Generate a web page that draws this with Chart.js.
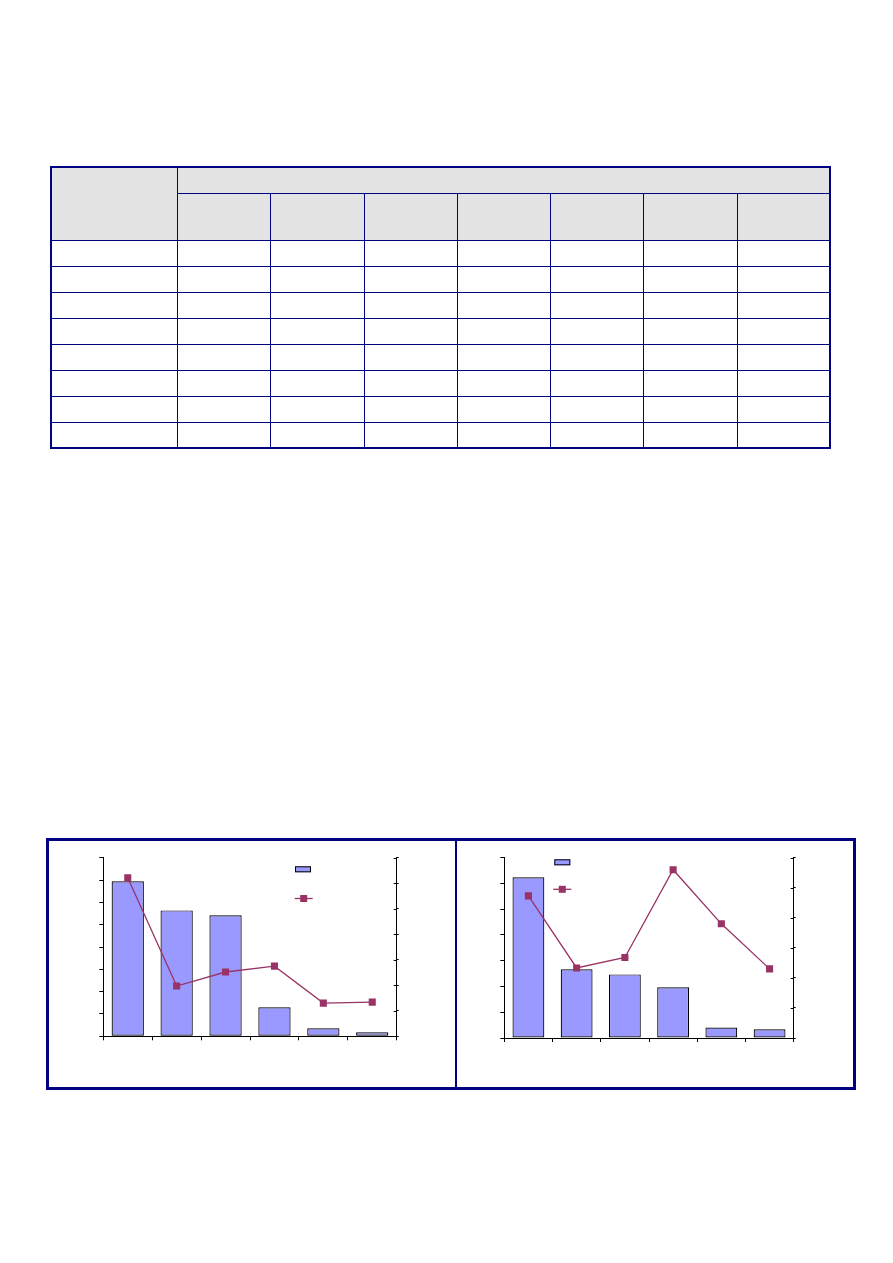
<!DOCTYPE html>
<html>
<head>
<meta charset="utf-8">
<script src="https://cdn.jsdelivr.net/npm/chart.js@4"></script>
<style>
  html, body { margin: 0; padding: 0; background: #ffffff; }
  body { width: 893px; height: 1263px; position: relative; overflow: hidden; font-family: "Liberation Sans", Arial, sans-serif; }
  table.grid {
    position: absolute; left: 50px; top: 166px; width: 781px;
    border-collapse: collapse; table-layout: fixed;
    border: 2px solid #000080;
  }
  table.grid td, table.grid th { border: 1px solid #000080; padding: 0; font-size: 11px; }
  table.grid th { background: #e3e3e3; font-weight: normal; }
  table.grid tr.h1 { height: 26px; }
  table.grid tr.h2 { height: 47px; }
  table.grid tr.d { height: 26px; }
  #panel {
    position: absolute; left: 46px; top: 838px; width: 810px; height: 252px;
    box-sizing: border-box; border: 3px solid #000080;
  }
  #divider { position: absolute; left: 455px; top: 838px; width: 2px; height: 252px; background: #000080; }
  .cv { position: absolute; }
</style>
</head>
<body>
<table class="grid" id="tbl">
  <colgroup>
    <col style="width:126px"><col style="width:93px"><col style="width:94px"><col style="width:93px">
    <col style="width:93px"><col style="width:93px"><col style="width:94px"><col style="width:93px">
  </colgroup>
</table>
<div id="panel"></div>
<div id="divider"></div>
<div class="cv" style="left:49px; top:841px; width:405px; height:246px;"><canvas id="c1" width="405" height="246"></canvas></div>
<div class="cv" style="left:457px; top:841px; width:397px; height:246px;"><canvas id="c2" width="397" height="246"></canvas></div>
<script>
// ---- Data (no text is visible in the reference; labels are blank) ----
const tableColumns = ['', '', '', '', '', '', ''];
const tableRows = ['', '', '', '', '', '', '', ''];

const categories1 = ['', '', '', '', '', ''];
const bars1 = [69.4, 56.4, 54.2, 13.0, 3.6, 1.8];
const line1 = [62.1, 19.7, 25.2, 27.5, 13.0, 13.4];
const leftAxis1 = { min: 0, max: 80, step: 10 };
const rightAxis1 = { min: 0, max: 70, step: 10 };

const categories2 = ['', '', '', '', '', ''];
const bars2 = [62.4, 26.7, 24.7, 19.7, 4.1, 3.4];
const line2 = [47.3, 23.3, 26.8, 56.0, 38.0, 23.0];
const leftAxis2 = { min: 0, max: 70, step: 10 };
const rightAxis2 = { min: 0, max: 60, step: 10 };

// ---- Table ----
(function buildTable() {
  const t = document.getElementById('tbl');
  const r1 = document.createElement('tr'); r1.className = 'h1';
  const corner = document.createElement('th'); corner.rowSpan = 2; r1.appendChild(corner);
  const span = document.createElement('th'); span.colSpan = tableColumns.length; r1.appendChild(span);
  t.appendChild(r1);
  const r2 = document.createElement('tr'); r2.className = 'h2';
  tableColumns.forEach(c => { const th = document.createElement('th'); th.textContent = c; r2.appendChild(th); });
  t.appendChild(r2);
  tableRows.forEach(rn => {
    const tr = document.createElement('tr'); tr.className = 'd';
    const td0 = document.createElement('td'); td0.textContent = rn; tr.appendChild(td0);
    tableColumns.forEach(() => tr.appendChild(document.createElement('td')));
    t.appendChild(tr);
  });
})();

// ---- Charts ----
const BAR_COLOR = '#9999ff';
const LINE_COLOR = '#993366';

function legendPlugin(pos) {
  return {
    id: 'customLegend',
    afterDraw(chart) {
      const ctx = chart.ctx;
      const barDs = chart.data.datasets[1];
      const lineDs = chart.data.datasets[0];
      ctx.save();
      ctx.fillStyle = barDs.backgroundColor;
      ctx.fillRect(pos.bx, pos.by, 16, 6);
      ctx.strokeStyle = '#000';
      ctx.lineWidth = 1;
      ctx.strokeRect(pos.bx + 0.5, pos.by + 0.5, 15, 5);
      ctx.strokeStyle = lineDs.borderColor;
      ctx.lineWidth = 1.3;
      ctx.beginPath();
      ctx.moveTo(pos.lx - 9, pos.ly);
      ctx.lineTo(pos.lx + 9, pos.ly);
      ctx.stroke();
      ctx.fillStyle = lineDs.borderColor;
      ctx.fillRect(pos.lx - 3.5, pos.ly - 3.5, 7, 7);
      ctx.restore();
    }
  };
}

// small inward tick marks on the right axis (ticks cross the axis there)
const innerTicks = {
  id: 'innerTicks',
  afterDraw(chart) {
    const s = chart.scales.y1;
    const ctx = chart.ctx;
    ctx.save();
    ctx.strokeStyle = '#000';
    ctx.lineWidth = 1;
    s.ticks.forEach((t, i) => {
      const y = Math.round(s.getPixelForTick(i)) + 0.5;
      ctx.beginPath();
      ctx.moveTo(s.left - 3, y);
      ctx.lineTo(s.left, y);
      ctx.stroke();
    });
    ctx.restore();
  }
};

function makeChart(id, cats, bars, line, la, ra, pad, legendPos) {
  const axisCommon = {
    grid: { drawOnChartArea: false, drawTicks: true, tickLength: 4, color: '#000', lineWidth: 1 },
    border: { display: true, color: '#000', width: 1 },
    ticks: { display: false }
  };
  return new Chart(document.getElementById(id), {
    data: {
      labels: cats,
      datasets: [
        {
          type: 'line', data: line, yAxisID: 'y1', order: 0,
          borderColor: LINE_COLOR, borderWidth: 1.3, backgroundColor: LINE_COLOR,
          pointStyle: 'rect', pointRadius: 5, pointBorderWidth: 0,
          pointBackgroundColor: LINE_COLOR, tension: 0
        },
        {
          type: 'bar', data: bars, yAxisID: 'y', order: 1,
          backgroundColor: BAR_COLOR, borderColor: '#000', borderWidth: 1.2,
          borderSkipped: false, barPercentage: 0.66, categoryPercentage: 1
        }
      ]
    },
    options: {
      responsive: false, animation: false, devicePixelRatio: 1,
      layout: { padding: pad },
      plugins: { legend: { display: false }, tooltip: { enabled: false } },
      scales: {
        x: Object.assign({}, axisCommon, {
          type: 'category', offset: true,
          grid: Object.assign({}, axisCommon.grid, { offset: true }),
          afterFit: s => { s.height = 4; }
        }),
        y: Object.assign({}, axisCommon, {
          position: 'left', min: la.min, max: la.max,
          ticks: { display: false, stepSize: la.step },
          afterFit: s => { s.width = 4; }
        }),
        y1: Object.assign({}, axisCommon, {
          position: 'right', min: ra.min, max: ra.max,
          grid: Object.assign({}, axisCommon.grid, { tickLength: 2 }),
          ticks: { display: false, stepSize: ra.step },
          afterFit: s => { s.width = 4; }
        })
      }
    },
    plugins: [innerTicks, legendPlugin(legendPos)]
  });
}

makeChart('c1', categories1, bars1, line1, leftAxis1, rightAxis1,
  { left: 50.3, top: 16.7, right: 53.3, bottom: 46.7 },
  { bx: 246, by: 25.3, lx: 254.7, ly: 57.5 });

makeChart('c2', categories2, bars2, line2, leftAxis2, rightAxis2,
  { left: 43.3, top: 16.7, right: 56.3, bottom: 45 },
  { bx: 97.3, by: 18.3, lx: 105.3, ly: 48.3 });
</script>
</body>
</html>
